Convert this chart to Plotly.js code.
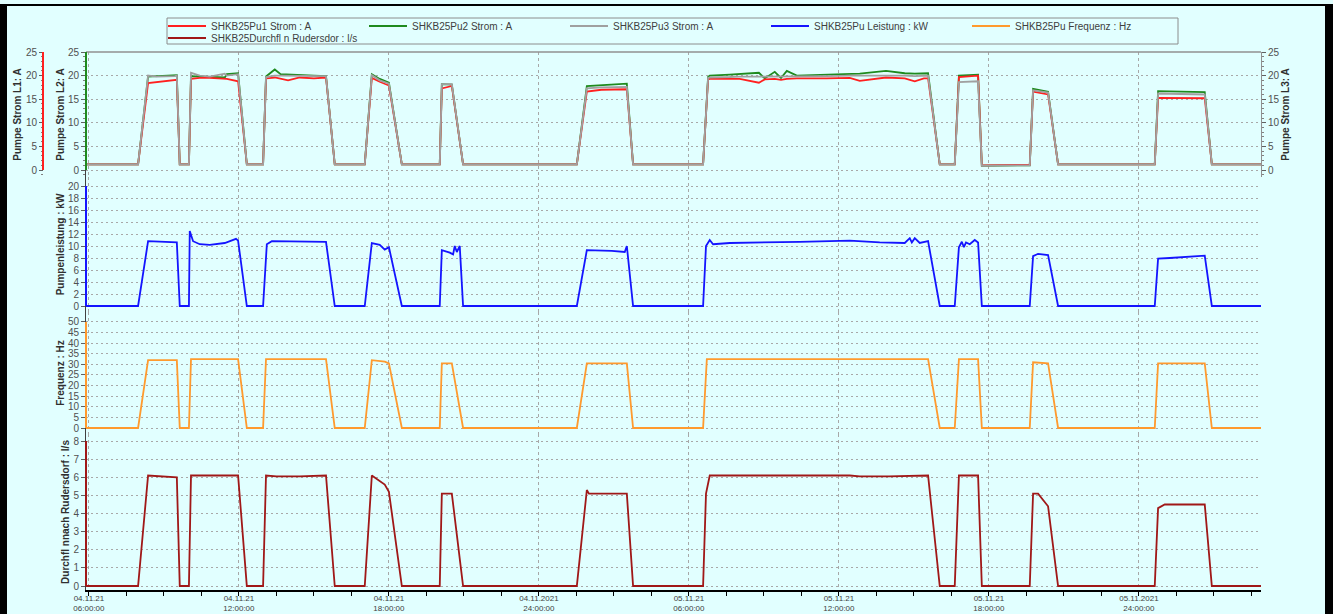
<!DOCTYPE html>
<html><head><meta charset="utf-8">
<script src="https://cdn.plot.ly/plotly-3.0.1.min.js"></script>
<style>
html,body{margin:0;padding:0;background:#e1ffff;width:1333px;height:614px;overflow:hidden}
#frame{position:absolute;left:0;top:4px;width:1333px;height:610px;box-sizing:border-box;border-top:2px solid #000;border-left:7px solid #000;border-right:8px solid #000;}
#chart{width:1318px;height:608px;}
</style></head><body><div id="frame"><div id="chart"></div></div>
<script>
// ---------- data ----------
const stromTime = [
'2021-11-04 05:53','2021-11-04 07:58','2021-11-04 08:22','2021-11-04 08:43','2021-11-04 09:26','2021-11-04 09:31','2021-11-04 09:38',
'2021-11-04 10:00','2021-11-04 10:05','2021-11-04 10:26','2021-11-04 10:50','2021-11-04 11:26','2021-11-04 11:31','2021-11-04 11:58','2021-11-04 12:19',
'2021-11-04 12:58','2021-11-04 13:05','2021-11-04 13:26','2021-11-04 13:40','2021-11-04 13:58','2021-11-04 14:26','2021-11-04 15:00','2021-11-04 15:29','2021-11-04 15:50',
'2021-11-04 17:02','2021-11-04 17:19','2021-11-04 17:38','2021-11-04 18:00','2021-11-04 18:31',
'2021-11-04 20:02','2021-11-04 20:07','2021-11-04 20:31','2021-11-04 20:58',
'2021-11-05 01:31','2021-11-05 01:55','2021-11-05 02:30','2021-11-05 03:31','2021-11-05 03:46',
'2021-11-05 06:34','2021-11-05 06:46','2021-11-05 06:50','2021-11-05 07:38','2021-11-05 08:02','2021-11-05 08:48','2021-11-05 09:02','2021-11-05 09:26','2021-11-05 09:41','2021-11-05 09:55','2021-11-05 10:19','2021-11-05 11:30','2021-11-05 12:26','2021-11-05 12:50','2021-11-05 13:53','2021-11-05 14:38','2021-11-05 15:02','2021-11-05 15:24','2021-11-05 15:34','2021-11-05 16:02',
'2021-11-05 16:38','2021-11-05 16:48','2021-11-05 17:34','2021-11-05 17:43',
'2021-11-05 19:38','2021-11-05 19:46','2021-11-05 20:22','2021-11-05 20:46',
'2021-11-06 00:38','2021-11-06 00:46','2021-11-06 02:38','2021-11-06 02:55','2021-11-06 04:53'];
const strom1 = [1.2,1.2,18.4,18.6,19.0,19.1,1.2,
 1.2,19.3,19.5,19.5,19.4,19.3,18.8,1.2,
 1.2,19.4,19.6,19.3,19.0,19.6,19.4,19.6,1.2,
 1.2,19.5,18.7,17.9,1.2,
 1.2,17.3,17.8,1.2,
 1.2,16.6,17.0,17.1,1.2,
 1.2,19.2,19.3,19.2,19.3,18.5,19.2,19.3,19.1,19.3,19.4,19.4,19.5,18.9,19.6,19.4,18.8,19.4,19.4,1.2,
 1.2,19.7,20.0,1.0,
 1.1,16.6,16.0,1.2,
 1.2,15.3,15.2,1.2,1.2];
const strom2 = [1.2,1.2,19.8,19.9,20.0,20.1,1.2,
 1.2,19.9,19.8,19.7,19.6,20.3,20.5,1.2,
 1.2,19.8,21.3,20.3,20.2,20.1,20.0,19.9,1.2,
 1.2,20.3,19.3,18.5,1.2,
 1.2,18.2,18.1,1.2,
 1.2,17.8,18.0,18.3,1.2,
 1.2,19.7,20.0,20.2,20.3,20.6,19.4,20.8,19.5,21.0,20.0,20.2,20.3,20.4,21.0,20.5,20.4,20.5,20.5,1.2,
 1.2,20.0,20.2,0.9,
 1.0,17.2,16.6,1.2,
 1.2,16.7,16.5,1.2,1.2];
const strom3 = [1.2,1.2,20.0,19.8,19.9,20.0,1.2,
 1.2,20.6,20.0,19.8,20.4,20.0,20.3,1.2,
 1.2,19.7,20.0,20.0,20.0,20.0,19.9,19.9,1.2,
 1.2,20.1,19.0,18.3,1.2,
 1.2,18.2,18.2,1.2,
 1.2,17.3,17.5,17.6,1.2,
 1.2,19.5,19.6,19.7,19.8,19.8,19.8,19.9,19.8,19.9,19.9,19.9,20.0,20.0,20.1,20.0,19.9,20.0,20.0,1.2,
 1.2,18.6,18.8,0.9,
 1.0,16.9,16.4,1.2,
 1.2,16.2,16.0,1.2,1.2];

const powerTime = [
'2021-11-04 05:53','2021-11-04 07:58','2021-11-04 08:22','2021-11-04 09:31','2021-11-04 09:38',
'2021-11-04 10:00','2021-11-04 10:02','2021-11-04 10:10','2021-11-04 10:26','2021-11-04 10:50','2021-11-04 11:26','2021-11-04 11:53','2021-11-04 11:58','2021-11-04 12:19',
'2021-11-04 12:58','2021-11-04 13:07','2021-11-04 13:19','2021-11-04 15:29','2021-11-04 15:50',
'2021-11-04 17:02','2021-11-04 17:19','2021-11-04 17:38','2021-11-04 17:50','2021-11-04 18:00','2021-11-04 18:31',
'2021-11-04 20:02','2021-11-04 20:07','2021-11-04 20:26','2021-11-04 20:34','2021-11-04 20:38','2021-11-04 20:43','2021-11-04 20:50','2021-11-04 20:58',
'2021-11-05 01:31','2021-11-05 01:55','2021-11-05 02:55','2021-11-05 03:26','2021-11-05 03:31','2021-11-05 03:46',
'2021-11-05 06:34','2021-11-05 06:41','2021-11-05 06:50','2021-11-05 06:58','2021-11-05 07:38','2021-11-05 10:26','2021-11-05 12:26','2021-11-05 13:38','2021-11-05 14:38','2021-11-05 14:50','2021-11-05 14:55','2021-11-05 15:02','2021-11-05 15:14','2021-11-05 15:34','2021-11-05 16:02',
'2021-11-05 16:38','2021-11-05 16:48','2021-11-05 16:55','2021-11-05 17:00','2021-11-05 17:05','2021-11-05 17:14','2021-11-05 17:26','2021-11-05 17:34','2021-11-05 17:43',
'2021-11-05 19:38','2021-11-05 19:46','2021-11-05 19:58','2021-11-05 20:22','2021-11-05 20:46',
'2021-11-06 00:38','2021-11-06 00:46','2021-11-06 01:14','2021-11-06 02:02','2021-11-06 02:38','2021-11-06 02:55','2021-11-06 04:53'];
const leistung = [0,0,10.8,10.6,0,
 0,12.5,10.8,10.3,10.2,10.5,11.2,10.9,0,
 0,10.3,10.8,10.7,0,
 0,10.5,10.2,9.4,9.8,0,
 0,9.3,8.9,8.6,10.0,9.0,10.0,0,
 0,9.3,9.2,9.0,10.0,0,
 0,10.0,11.0,10.3,10.5,10.7,10.9,10.6,10.5,11.3,10.6,11.3,10.5,10.8,0,
 0,9.8,10.7,9.8,10.6,10.3,11.0,10.6,0,
 0,8.3,8.7,8.5,0,
 0,7.9,8.0,8.3,8.4,0,0];

const freqTime = ['2021-11-04 05:53','2021-11-04 07:58','2021-11-04 08:22','2021-11-04 09:31','2021-11-04 09:38',
'2021-11-04 10:00','2021-11-04 10:05','2021-11-04 11:58','2021-11-04 12:19',
'2021-11-04 12:58','2021-11-04 13:05','2021-11-04 15:29','2021-11-04 15:50',
'2021-11-04 17:02','2021-11-04 17:19','2021-11-04 17:50','2021-11-04 18:00','2021-11-04 18:31',
'2021-11-04 20:02','2021-11-04 20:07','2021-11-04 20:31','2021-11-04 20:58',
'2021-11-05 01:31','2021-11-05 01:55','2021-11-05 03:31','2021-11-05 03:46',
'2021-11-05 06:34','2021-11-05 06:43','2021-11-05 15:34','2021-11-05 16:02',
'2021-11-05 16:38','2021-11-05 16:48','2021-11-05 17:34','2021-11-05 17:43',
'2021-11-05 19:38','2021-11-05 19:46','2021-11-05 20:22','2021-11-05 20:46',
'2021-11-06 00:38','2021-11-06 00:46','2021-11-06 02:38','2021-11-06 02:55','2021-11-06 04:53'];
const frequenz = [0,0,32,32,0,
 0,32.5,32.5,0,
 0,32.5,32.5,0,
 0,32,31.3,30.5,0,
 0,30.5,30.5,0,
 0,30.5,30.5,0,
 0,32.5,32.5,0,
 0,32.5,32.5,0,
 0,31,30.5,0,
 0,30.5,30.5,0,0];

const flowTime = ['2021-11-04 05:53','2021-11-04 07:58','2021-11-04 08:22','2021-11-04 09:31','2021-11-04 09:38',
'2021-11-04 10:00','2021-11-04 10:05','2021-11-04 11:58','2021-11-04 12:19',
'2021-11-04 12:58','2021-11-04 13:05','2021-11-04 13:30','2021-11-04 14:26','2021-11-04 15:29','2021-11-04 15:50',
'2021-11-04 17:02','2021-11-04 17:19','2021-11-04 17:50','2021-11-04 18:00','2021-11-04 18:31',
'2021-11-04 20:02','2021-11-04 20:07','2021-11-04 20:31','2021-11-04 20:58',
'2021-11-05 01:31','2021-11-05 01:55','2021-11-05 02:00','2021-11-05 03:31','2021-11-05 03:46',
'2021-11-05 06:34','2021-11-05 06:41','2021-11-05 06:50','2021-11-05 12:26','2021-11-05 12:50','2021-11-05 14:00','2021-11-05 15:34','2021-11-05 16:02',
'2021-11-05 16:38','2021-11-05 16:48','2021-11-05 17:34','2021-11-05 17:43',
'2021-11-05 19:38','2021-11-05 19:46','2021-11-05 19:58','2021-11-05 20:22','2021-11-05 20:46',
'2021-11-06 00:38','2021-11-06 00:46','2021-11-06 01:02','2021-11-06 02:38','2021-11-06 02:55','2021-11-06 04:53'];
const durchfluss = [0,0,6.1,6.0,0,
 0,6.1,6.1,0,
 0,6.1,6.05,6.05,6.1,0,
 0,6.1,5.6,5.2,0,
 0,5.1,5.1,0,
 0,5.3,5.1,5.1,0,
 0,5.1,6.1,6.1,6.05,6.05,6.1,0,
 0,6.1,6.1,0,
 0,5.1,5.1,4.4,0,
 0,4.3,4.5,4.5,0,0];

const tickTimes = ['2021-11-04 06:00','2021-11-04 12:00','2021-11-04 18:00','2021-11-05 00:00','2021-11-05 06:00','2021-11-05 12:00','2021-11-05 18:00','2021-11-06 00:00'];
const tickLabels = ['04.11.21<br>06:00:00','04.11.21<br>12:00:00','04.11.21<br>18:00:00','04.11.2021<br>24:00:00','05.11.21<br>06:00:00','05.11.21<br>12:00:00','05.11.21<br>18:00:00','05.11.2021<br>24:00:00'];
const seriesNames = ['SHKB25Pu1 Strom : A','SHKB25Pu2 Strom : A','SHKB25Pu3 Strom : A','SHKB25Pu Leistung : kW','SHKB25Pu Frequenz : Hz','SHKB25Durchfl n Rudersdor : l/s'];
const axisTitles = ['Pumpe Strom L1: A','Pumpe Strom L2: A','Pumpe Strom L3: A','Pumpenleistung : kW','Frequenz : Hz','Durchfl nnach Rudersdorf : l/s'];
const stromTicks = [0,5,10,15,20,25];
const powerTicks = [0,2,4,6,8,10,12,14,16,18,20];
const freqTicks = [0,5,10,15,20,25,30,35,40,45,50];
const flowTicks = [0,1,2,3,4,5,6,7,8];

// ---------- geometry helpers (page px -> paper) ----------
const W = 1318, H = 608, OX = 7, OY = 6;
const M = {l:36, r:64, t:46, b:24, autoexpand:false};
const PW = W - M.l - M.r, PH = H - M.t - M.b;
const pX = x => (x - OX - M.l) / PW;
const pY = y => 1 - (y - OY - M.t) / PH;

const C = {red:'#ff2020', green:'#1e8a1e', gray:'#a0a0a0', blue:'#1414ff', orange:'#ff9a2e', dred:'#a01818'};
const xd0 = pX(86);

const lw = 1.8;
const traces = [
  {x: stromTime, y: strom1, name: seriesNames[0], yaxis:'y5', line:{color:C.red, width:lw}},
  {x: stromTime, y: strom2, name: seriesNames[1], yaxis:'y', line:{color:C.green, width:lw}},
  {x: stromTime, y: strom3, name: seriesNames[2], yaxis:'y6', line:{color:C.gray, width:lw}},
  {x: powerTime, y: leistung, name: seriesNames[3], yaxis:'y2', line:{color:C.blue, width:lw}},
  {x: freqTime, y: frequenz, name: seriesNames[4], yaxis:'y3', line:{color:C.orange, width:lw}},
  {x: flowTime, y: durchfluss, name: seriesNames[5], yaxis:'y4', line:{color:C.dred, width:lw}, legend:'legend2'}
].map(t => Object.assign({type:'scatter', mode:'lines', xaxis:'x', hoverinfo:'skip'}, t));

const tickFont = {family:'Liberation Sans, Arial, sans-serif', size:10, color:'#505050'};
const titleFont = {family:'Liberation Sans, Arial, sans-serif', size:10, color:'#303030'};
const legendFont = {family:'Liberation Sans, Arial, sans-serif', size:10, color:'#404040'};
const gridCol = '#a8a8a8';

function yax(extra){
  return Object.assign({
    showline:true, linecolor:'#404040', linewidth:1, ticks:'outside', ticklen:4, tickcolor:'#606060',
    tickfont:tickFont, showgrid:true, gridcolor:gridCol, griddash:'2px,3px', gridwidth:1,
    zeroline:false, fixedrange:true, tickmode:'array', automargin:false
  }, extra);
}
const ttl = (t, s) => ({text:'<b>'+t+'</b>', font:titleFont, standoff:s});

const layout = {
  width:W, height:H, margin:M,
  paper_bgcolor:'#e1ffff', plot_bgcolor:'#e1ffff',
  font:{family:'Liberation Sans, Arial, sans-serif', color:'#404040'},
  showlegend:true,
  xaxis:{
    type:'date', domain:[xd0,1], anchor:'y4', automargin:false,
    range:['2021-11-04 05:53','2021-11-06 04:53'],
    tickmode:'array', tickvals:tickTimes, ticktext:tickLabels,
    tickfont:{family:'Liberation Sans, Arial, sans-serif', size:8, color:'#404040'},
    ticks:'outside', ticklen:4, tickcolor:'#000', ticklabelstandoff:-5,
    showline:true, linecolor:'#000', linewidth:2,
    showgrid:true, gridcolor:gridCol, griddash:'3px,3px', gridwidth:1,
    minor:{dtick:5400000, tick0:'2021-11-04 06:00', ticks:'outside', ticklen:4, tickcolor:'#000', showgrid:false},
    zeroline:false, fixedrange:true
  },
  yaxis: yax({domain:[pY(177),1], range:[-1.48,25], tickvals:stromTicks, anchor:'x',
    minor:{dtick:1, ticks:'outside', ticklen:2, tickcolor:'#808080', showgrid:false},
    title:ttl(axisTitles[1],1)}),
  yaxis5: yax({overlaying:'y', anchor:'free', position:0, side:'left', range:[-1.48,25], tickvals:stromTicks,
    showline:false, showgrid:false,
    minor:{dtick:1, ticks:'outside', ticklen:2, tickcolor:'#808080', showgrid:false},
    title:ttl(axisTitles[0],1)}),
  yaxis6: yax({overlaying:'y', anchor:'x', side:'right', range:[-1.48,25], tickvals:stromTicks,
    linecolor:'#909090', showgrid:false,
    minor:{dtick:1, ticks:'outside', ticklen:2, tickcolor:'#808080', showgrid:false},
    title:ttl(axisTitles[2],1)}),
  yaxis2: yax({domain:[pY(312),pY(177)], range:[-1,21.5], tickvals:powerTicks, anchor:'x', title:ttl(axisTitles[3],1)}),
  yaxis3: yax({domain:[pY(434),pY(312)], range:[-2.83,54.7], tickvals:freqTicks, anchor:'x', title:ttl(axisTitles[4],1)}),
  yaxis4: yax({domain:[0,pY(434)], range:[-0.22,8.39], tickvals:flowTicks, anchor:'x', title:ttl(axisTitles[5],1)}),
  legend:{orientation:'h', x:pX(163), xanchor:'left', y:pY(11.5), yanchor:'top',
    bgcolor:'rgba(0,0,0,0)', borderwidth:0, itemwidth:38, entrywidth:148, entrywidthmode:'pixels',
    font:legendFont, tracegroupgap:0},
  legend2:{orientation:'h', x:pX(163), xanchor:'left', y:pY(23.5), yanchor:'top',
    bgcolor:'rgba(0,0,0,0)', borderwidth:0, itemwidth:38, font:legendFont},
  shapes:[
    {type:'rect', xref:'paper', yref:'paper', x0:pX(167), x1:pX(1178), y0:pY(44), y1:pY(18), line:{color:'#8c8c8c', width:1}, layer:'below'},
    {type:'line', xref:'paper', yref:'paper', x0:xd0, x1:1, y0:1, y1:1, line:{color:'#909090', width:1.5}},
    {type:'line', xref:'paper', yref:'y5', x0:0, x1:0, y0:0, y1:25, line:{color:C.red, width:2}},
    {type:'line', xref:'paper', yref:'y', x0:xd0, x1:xd0, y0:0, y1:25, line:{color:C.green, width:2}},
    {type:'line', xref:'paper', yref:'y2', x0:xd0, x1:xd0, y0:0, y1:20, line:{color:C.blue, width:2}},
    {type:'line', xref:'paper', yref:'y3', x0:xd0, x1:xd0, y0:0, y1:50, line:{color:C.orange, width:2}},
    {type:'line', xref:'paper', yref:'y4', x0:xd0, x1:xd0, y0:0, y1:8, line:{color:C.dred, width:2}}
  ]
};

Plotly.newPlot('chart', traces, layout, {displayModeBar:false, staticPlot:true});
</script></body></html>
